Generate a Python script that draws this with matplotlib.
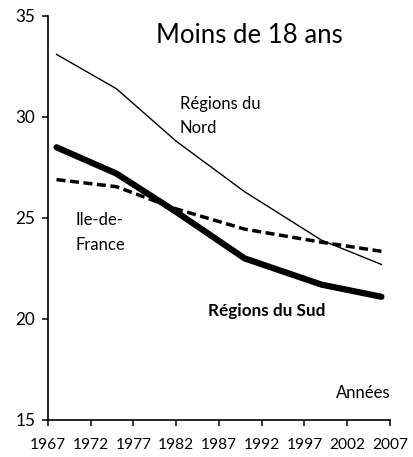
import matplotlib.pyplot as plt

# Données (part des moins de 18 ans, %)
annees = [1968, 1975, 1982, 1990, 1999, 2006]
nord = [33.1, 31.4, 28.8, 26.3, 23.9, 22.7]
idf = [26.9, 26.55, 25.45, 24.45, 23.8, 23.35]
sud = [28.5, 27.2, 25.3, 23.0, 21.7, 21.1]

xticks = list(range(1967, 2008, 5))
yticks = [15, 20, 25, 30, 35]

plt.rcParams['font.family'] = ['Lato', 'DejaVu Sans']

fig = plt.figure(figsize=(4.13, 4.57), dpi=100)
ax = fig.add_axes([0.1162, 0.081, 0.828, 0.884])

ax.plot(annees, nord, color='black', lw=1.0)
ax.plot(annees, idf, color='black', lw=2.5, linestyle=(0, (2.6, 1.3)))
ax.plot(annees, sud, color='black', lw=4.5, solid_capstyle='round')

ax.set_xlim(1967, 2007)
ax.set_ylim(15, 35)
ax.set_xticks(xticks)
ax.set_yticks(yticks)
ax.tick_params(axis='both', direction='out', length=4, width=1.1, colors='black')
ax.tick_params(axis='x', pad=9, labelsize=11.2)
ax.tick_params(axis='y', pad=5, labelsize=12.3)
for s in ['top', 'right']:
    ax.spines[s].set_visible(False)
for s in ['left', 'bottom']:
    ax.spines[s].set_linewidth(1.2)

# textes
ax.text(1990.5, 34.05, 'Moins de 18 ans', fontsize=18.5, ha='center', va='center')
ax.text(1982.4, 30.65, 'Régions du', fontsize=12, va='center')
ax.text(1982.4, 29.45, 'Nord', fontsize=12, va='center')
ax.text(1970.2, 24.9, 'Ile-de-', fontsize=12, va='center')
ax.text(1970.2, 23.66, 'France', fontsize=12, va='center')
ax.text(1985.7, 20.4, 'Régions du Sud', fontsize=12.3, fontweight='bold', va='center')
ax.text(2007.1, 16.34, 'Années', fontsize=12, ha='right', va='center')

fig.savefig('out.png', dpi=100)
